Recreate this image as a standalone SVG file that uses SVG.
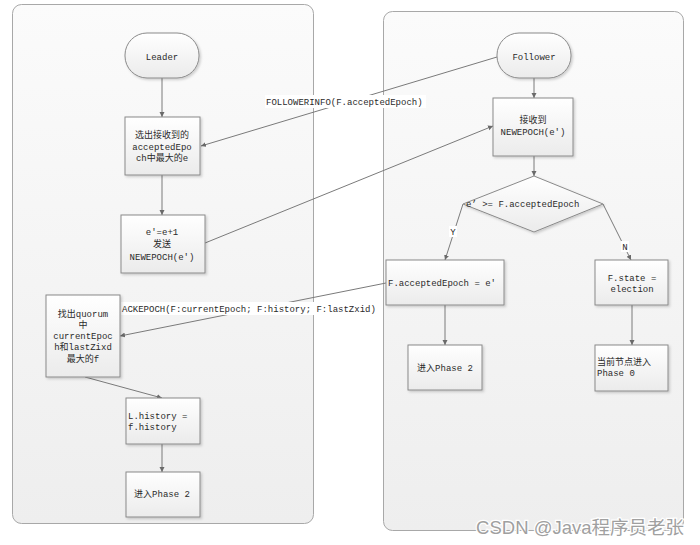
<svg xmlns="http://www.w3.org/2000/svg" width="700" height="545" viewBox="0 0 700 545">
<style>
text{font-family:"Liberation Mono","Noto Sans CJK SC",monospace;font-size:9px;fill:#2a2a2a}
.c{text-anchor:middle}
.panel{fill:url(#pg);stroke:#a8a8a8;stroke-width:1}
.box{fill:url(#bg);stroke:#8a8a8a;stroke-width:1;filter:url(#sh)}
.pill{fill:url(#bg);stroke:#8a8a8a;stroke-width:1;filter:url(#sh)}
.e{fill:none;stroke:#7a7a7a;stroke-width:1;marker-end:url(#ah)}
.lb{fill:#fff}
.wm{font-family:"Liberation Sans","Noto Sans CJK SC",sans-serif;font-size:18.5px;fill:#a0a0a0;stroke:#fff;stroke-width:2.5;paint-order:stroke}
</style>
<defs>
<linearGradient id="pg" x1="0" y1="0" x2="0" y2="1"><stop offset="0" stop-color="#fbfbfb"/><stop offset="1" stop-color="#eeeeee"/></linearGradient>
<linearGradient id="bg" x1="0" y1="0" x2="0" y2="1"><stop offset="0" stop-color="#ffffff"/><stop offset="1" stop-color="#ebebeb"/></linearGradient>
<filter id="sh" x="-20%" y="-20%" width="140%" height="140%"><feDropShadow dx="1.5" dy="1.5" stdDeviation="1.2" flood-color="#000" flood-opacity="0.18"/></filter>
<marker id="ah" markerWidth="6" markerHeight="6" refX="5" refY="3" orient="auto" markerUnits="userSpaceOnUse"><path d="M0,0.5 L5,3 L0,5.5 z" fill="#6a6a6a"/></marker>
</defs>
<g id="panel-leader"><rect class="panel" x="12.5" y="4.5" width="301" height="519" rx="9"/></g>
<g id="panel-follower"><rect class="panel" x="383.5" y="11.5" width="300" height="519" rx="9"/></g>

<g id="connectors">
<line class="e" x1="162" y1="78" x2="162" y2="117"/>
<line class="e" x1="162" y1="175" x2="162" y2="215"/>
<line class="e" x1="85" y1="377" x2="162" y2="398"/>
<line class="e" x1="162" y1="444" x2="162" y2="472"/>
<line class="e" x1="534" y1="78" x2="534" y2="98"/>
<line class="e" x1="534" y1="156" x2="534" y2="176"/>
<line class="e" x1="463" y1="204" x2="445" y2="260"/>
<line class="e" x1="603" y1="204" x2="631" y2="260"/>
<line class="e" x1="445" y1="305" x2="445" y2="345"/>
<line class="e" x1="632" y1="305" x2="632" y2="345"/>
<line class="e" x1="497" y1="57" x2="201" y2="146"/>
<line class="e" x1="205" y1="243" x2="493" y2="126"/>
<line class="e" x1="386" y1="283" x2="120" y2="336"/>
<rect class="lb" x="265" y="95" width="161" height="13"/>
<text x="266" y="105">FOLLOWERINFO(F.acceptedEpoch)</text>
<rect class="lb" x="121" y="302" width="262" height="13"/>
<text x="122" y="312">ACKEPOCH(F:currentEpoch; F:history; F:lastZxid)</text>
<rect class="lb" x="449" y="226" width="8" height="11"/>
<text class="c" x="453" y="235">Y</text>
<rect class="lb" x="621" y="241" width="8" height="11"/>
<text class="c" x="625" y="250">N</text>
</g>

<g id="leader"><rect class="pill" x="125" y="33" width="74" height="45" rx="22"/><text class="c" x="162" y="60">Leader</text></g>
<g id="select-max-e"><rect class="box" x="125" y="117" width="75" height="58"/>
<text class="c" x="162" y="138">选出接收到的</text><text class="c" x="162" y="150">acceptedEpo</text><text class="c" x="162" y="161">ch中最大的e</text></g>
<g id="send-newepoch"><rect class="box" x="121" y="215" width="84" height="58"/>
<text class="c" x="162" y="235">e'=e+1</text><text class="c" x="162" y="247">发送</text><text class="c" x="162" y="260">NEWEPOCH(e')</text></g>
<g id="find-quorum"><rect class="box" x="46" y="295" width="74" height="82"/>
<text class="c" x="83" y="317">找出quorum</text><text class="c" x="83" y="328">中</text><text class="c" x="83" y="339">currentEpoc</text><text class="c" x="83" y="350">h和lastZixd</text><text class="c" x="83" y="362">最大的f</text></g>
<g id="l-history"><rect class="box" x="126" y="398" width="74" height="46"/>
<text x="128" y="419">L.history =</text><text x="128" y="430">f.history</text></g>
<g id="leader-phase2"><rect class="box" x="126" y="472" width="74" height="45"/><text class="c" x="162" y="497">进入Phase 2</text></g>

<g id="follower"><rect class="pill" x="497" y="33" width="74" height="45" rx="22"/><text class="c" x="534" y="60">Follower</text></g>
<g id="receive-newepoch"><rect class="box" x="493" y="98" width="80" height="58"/>
<text class="c" x="533" y="123">接收到</text><text class="c" x="533" y="135">NEWEPOCH(e')</text></g>
<g id="decision"><polygon points="534,176 603,204 534,232 463,204" fill="url(#bg)" stroke="#8a8a8a" stroke-width="1" filter="url(#sh)"/>
<text x="466" y="207">e’ &gt;= F.acceptedEpoch</text></g>
<g id="set-accepted"><rect class="box" x="386" y="260" width="118" height="45"/><text x="388" y="286">F.acceptedEpoch = e'</text></g>
<g id="set-election"><rect class="box" x="595" y="260" width="73" height="45"/>
<text class="c" x="632" y="281">F.state =</text><text class="c" x="632" y="292">election</text></g>
<g id="follower-phase2"><rect class="box" x="408" y="345" width="74" height="45"/><text class="c" x="445" y="371">进入Phase 2</text></g>
<g id="phase0"><rect class="box" x="595" y="345" width="73" height="46"/>
<text x="597" y="365">当前节点进入</text><text x="597" y="376">Phase 0</text></g>

<text class="wm" x="684" y="534" text-anchor="end">CSDN @Java程序员老张</text>
</svg>
